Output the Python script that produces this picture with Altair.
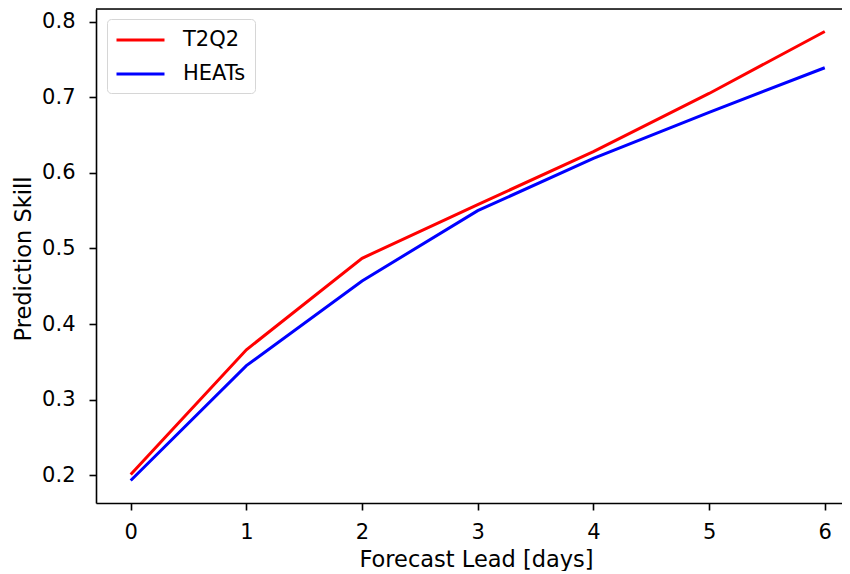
import altair as alt
import pandas as pd

lead = [0, 1, 2, 3, 4, 5, 6]
t2q2 = [0.201, 0.366, 0.487, 0.558, 0.628, 0.705, 0.787]
heats = [0.193, 0.345, 0.457, 0.550, 0.619, 0.680, 0.739]
series_names = ["T2Q2", "HEATs"]
series_colors = ["#ff0000", "#0000ff"]
x_ticks = [0, 1, 2, 3, 4, 5, 6]
y_ticks = [0.2, 0.3, 0.4, 0.5, 0.6, 0.7, 0.8]

rows = []
for name, vals in zip(series_names, [t2q2, heats]):
    for l, v in zip(lead, vals):
        rows.append({"lead": l, "skill": v, "series": name})
df = pd.DataFrame(rows)

W, H = 746, 494
FONT = "DejaVu Sans"

lines = alt.Chart(df).mark_line(strokeWidth=3, clip=False).encode(
    x=alt.X("lead:Q",
            scale=alt.Scale(domain=[-0.3, 6.149], nice=False, zero=False),
            axis=alt.Axis(values=x_ticks, format="d", title="Forecast Lead [days]",
                          grid=False, tickSize=7, tickWidth=1.6, tickColor="black",
                          domainColor="black", domainWidth=1.6,
                          labelFont=FONT, labelFontSize=21, labelColor="black",
                          labelPadding=11,
                          titleFont=FONT, titleFontSize=22.5, titleFontWeight="normal",
                          titleColor="black", titleX=380, titleY=63,
                          titleAlign="center", titleBaseline="alphabetic")),
    y=alt.Y("skill:Q",
            scale=alt.Scale(domain=[0.1633, 0.8167], nice=False, zero=False),
            axis=alt.Axis(values=y_ticks, format=".1f", title="Prediction Skill",
                          grid=False, tickSize=7, tickWidth=1.6, tickColor="black",
                          domainColor="black", domainWidth=1.6,
                          labelFont=FONT, labelFontSize=21, labelColor="black",
                          labelPadding=14,
                          titleFont=FONT, titleFontSize=22.5, titleFontWeight="normal",
                          titleColor="black", titleX=-66, titleY=249.5, titleAngle=270,
                          titleAlign="center", titleBaseline="alphabetic")),
    color=alt.Color("series:N",
                    scale=alt.Scale(domain=series_names, range=series_colors),
                    sort=series_names,
                    legend=alt.Legend(title=None, orient="none", legendX=11, legendY=10,
                                      symbolType="M-1.095,0L3.476,0", symbolSize=441,
                                      symbolStrokeWidth=3, labelOffset=43,
                                      labelFont=FONT, labelFontSize=21, labelColor="black",
                                      rowPadding=12, padding=9,
                                      strokeColor="#d6d6d6", fillColor="rgba(255,255,255,0.8)",
                                      cornerRadius=4)),
)

top_spine = alt.Chart(pd.DataFrame({"a": [0]})).mark_rule(color="black", strokeWidth=1.6).encode(
    x=alt.value(0), x2=alt.value(W), y=alt.value(0)
)

chart = alt.layer(lines, top_spine).properties(
    width=W, height=H,
    autosize=alt.AutoSizeParams(type="none"),
    padding={"left": 88, "top": 1, "right": 0, "bottom": 68},
).configure_view(stroke=None).configure(background="white")

chart.save("out.html", embed_options={"renderer": "svg", "actions": False})
